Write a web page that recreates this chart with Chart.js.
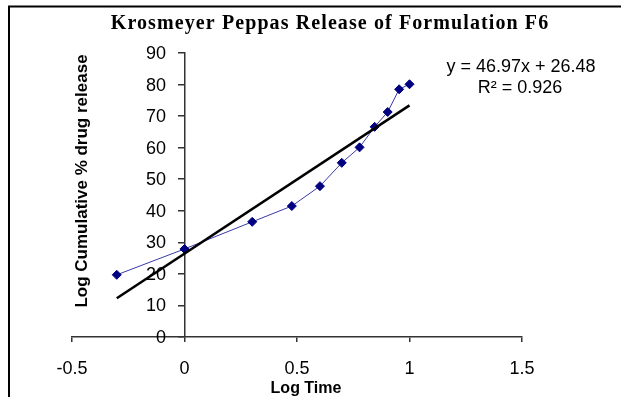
<!DOCTYPE html>
<html>
<head>
<meta charset="utf-8">
<title>Krosmeyer Peppas Release of Formulation F6</title>
<script src="https://cdn.jsdelivr.net/npm/chart.js@4.4.0/dist/chart.umd.min.js"></script>
<style>
  html, body { margin: 0; padding: 0; background: #fff; }
  #wrap { width: 621px; height: 397px; position: relative; }
</style>
</head>
<body>
<div id="wrap"><canvas id="kpChart"></canvas></div>
<script>
const chartTitle = "Krosmeyer Peppas Release of Formulation F6";
const xTitle = "Log Time";
const yTitle = "Log Cumulative % drug release";
const equationLines = ["y = 46.97x + 26.48", "R\u00B2 = 0.926"];

// log time vs cumulative % release
const logTime = [-0.301, 0, 0.301, 0.477, 0.602, 0.699, 0.778, 0.845, 0.903, 0.954, 1.0];
const release = [19.7, 27.9, 36.5, 41.5, 47.8, 55.2, 60.1, 66.6, 71.3, 78.5, 80.1];

// linear trendline end points
const trendX = [-0.301, 1.0];
const trendY = [12.3, 73.4];

const xTicks = [-0.5, 0, 0.5, 1, 1.5];
const yTicks = [0, 10, 20, 30, 40, 50, 60, 70, 80, 90];

const toPoints = (xs, ys) => xs.map((x, i) => ({ x: x, y: ys[i] }));

const sansFont = "'Liberation Sans', Arial, sans-serif";

// texts and frame drawn straight onto the canvas
const decorations = {
  id: "decorations",
  beforeDraw(chart) {
    const ctx = chart.ctx;
    ctx.save();
    ctx.fillStyle = "#fff";
    ctx.fillRect(0, 0, chart.width, chart.height);
    ctx.restore();
  },
  afterDraw(chart) {
    const ctx = chart.ctx;
    const yScale = chart.scales.y;
    ctx.save();

    // frame (only top and left edges are in view)
    ctx.strokeStyle = "#000";
    ctx.lineWidth = 2;
    ctx.beginPath();
    ctx.moveTo(9, chart.height + 2);
    ctx.lineTo(9, 6.5);
    ctx.lineTo(chart.width + 2, 6.5);
    ctx.stroke();

    ctx.fillStyle = "#000";

    // y tick labels sit left of the axis that crosses at x = 0
    ctx.font = "18px " + sansFont;
    ctx.textAlign = "right";
    ctx.textBaseline = "middle";
    yTicks.forEach(v => ctx.fillText(String(v), 166, yScale.getPixelForValue(v) + 1));

    ctx.textAlign = "center";
    ctx.textBaseline = "alphabetic";

    ctx.font = "bold 20px 'Liberation Serif', 'Times New Roman', serif";
    ctx.letterSpacing = "1.1px";
    ctx.fillText(chartTitle, 330, 28.5);
    ctx.letterSpacing = "0px";

    ctx.font = "bold 16px " + sansFont;
    ctx.fillText(xTitle, 306, 393);

    ctx.font = "18px " + sansFont;
    ctx.fillText(equationLines[0], 521, 71.5);
    ctx.fillText(equationLines[1], 520, 92.7);

    ctx.translate(87, 181);
    ctx.rotate(-Math.PI / 2);
    ctx.font = "bold 17px " + sansFont;
    ctx.fillText(yTitle, 0, 0);

    ctx.restore();
  }
};

const ctx = document.getElementById("kpChart").getContext("2d");
new Chart(ctx, {
  type: "scatter",
  data: {
    datasets: [
      {
        label: "Trendline",
        data: toPoints(trendX, trendY),
        showLine: true,
        borderColor: "#000",
        borderWidth: 2.5,
        pointRadius: 0,
        order: 0
      },
      {
        label: "F6",
        data: toPoints(logTime, release),
        showLine: true,
        borderColor: "#3a3aa8",
        borderWidth: 1,
        pointStyle: "rectRot",
        pointRadius: 4.5,
        pointBackgroundColor: "#000080",
        pointBorderColor: "#000080",
        pointBorderWidth: 1,
        order: 1
      }
    ]
  },
  options: {
    responsive: true,
    maintainAspectRatio: false,
    animation: false,
    layout: {
      padding: { left: 72, right: 99, top: 53, bottom: 1.4 }
    },
    plugins: {
      legend: { display: false },
      tooltip: { enabled: false },
      title: { display: false }
    },
    scales: {
      x: {
        type: "linear",
        position: "bottom",
        min: -0.5,
        max: 1.5,
        afterBuildTicks: (scale) => { scale.ticks = xTicks.map(v => ({ value: v })); },
        grid: { drawOnChartArea: false, drawTicks: true, tickLength: 5, color: "#333", lineWidth: 1.5 },
        border: { display: true, color: "#333", width: 1.5 },
        ticks: {
          color: "#000",
          padding: 16,
          callback: (v) => String(v),
          font: { family: sansFont, size: 18 }
        }
      },
      y: {
        type: "linear",
        position: { x: 0 },
        min: 0,
        max: 90,
        afterBuildTicks: (scale) => { scale.ticks = yTicks.map(v => ({ value: v })); },
        grid: { drawOnChartArea: false, drawTicks: true, tickLength: 6, color: "#333", lineWidth: 1.5 },
        border: { display: true, color: "#333", width: 1.5 },
        ticks: { display: false }
      }
    }
  },
  plugins: [decorations]
});
</script>
</body>
</html>
